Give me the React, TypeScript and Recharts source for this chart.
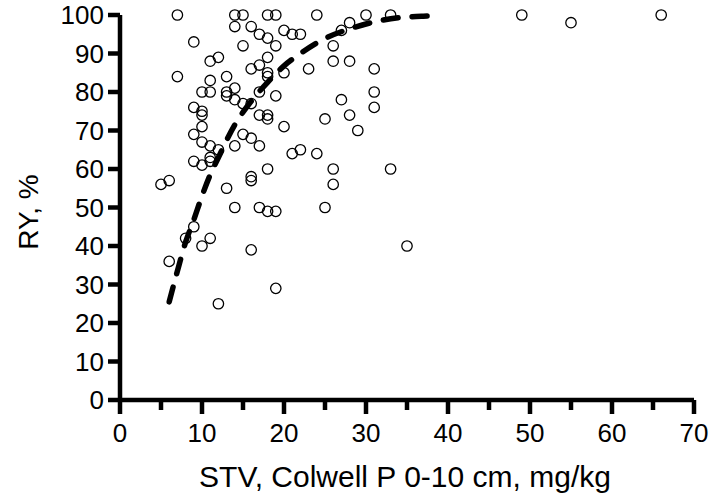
import { ComposedChart, Scatter, Line, XAxis, YAxis, Label } from "recharts";

// observed soil test values (x) and relative yield (y)
const stv = [
    7, 14, 15, 18, 19, 24, 30, 33, 49, 55, 66,
    14, 16, 28, 17, 18, 20, 21, 22, 27,
    9, 15, 19, 26,
    12, 11, 18, 17, 16, 23, 26, 28, 31,
    7, 13, 11, 18, 18, 20,
    14, 10, 11, 13, 13, 17, 19, 14, 15, 16, 31, 31, 27,
    9, 10, 10, 17, 18, 18, 28, 25,
    10, 20, 29, 9, 15, 16, 10, 11, 12, 14, 17,
    21, 22, 24, 9, 11, 11, 10, 18, 26, 33,
    5, 6, 16, 16, 13, 26,
    14, 17, 18, 19, 25,
    9, 8, 11, 10, 16, 35, 6, 19, 12,
];
const ry = [
    100, 100, 100, 100, 100, 100, 100, 100, 100, 98, 100,
    97, 97, 98, 95, 94, 96, 95, 95, 96,
    93, 92, 92, 92,
    89, 88, 89, 87, 86, 86, 88, 88, 86,
    84, 84, 83, 85, 84, 85,
    81, 80, 80, 80, 79, 80, 79, 78, 77, 77, 80, 76, 78,
    76, 75, 74, 74, 74, 73, 74, 73,
    71, 71, 70, 69, 69, 68, 67, 66, 65, 66, 66,
    64, 65, 64, 62, 63, 62, 61, 60, 60, 60,
    56, 57, 58, 57, 55, 56,
    50, 50, 49, 49, 50,
    45, 42, 42, 40, 39, 40, 36, 29, 25,
];

// fitted response curve
const curveX = [6, 7, 8, 9, 10, 11, 12, 14, 16, 18, 20, 22, 25, 28, 31, 34, 37, 39];
const curveY = [25.5, 33.5, 41, 46.8, 53, 58.5, 63, 71.5, 77.6, 82.5, 86.8, 90, 93.9, 96.4, 98.2, 99.3, 99.7, 99.8];

const xTicks = [0, 5, 10, 15, 20, 25, 30, 35, 40, 45, 50, 55, 60, 65, 70];
const yTicks = [0, 10, 20, 30, 40, 50, 60, 70, 80, 90, 100];

const points = stv.map((x, i) => ({ x, y: ry[i] }));
const curve = curveX.map((x, i) => ({ x, y: curveY[i] }));

const FONT = '"Liberation Sans", Arial, Helvetica, sans-serif';

const XTick = ({ x, y, payload }: any) => {
    const major = payload.value % 10 === 0;
    return (
        <g>
            <line x1={x} y1={y} x2={x} y2={y + (major ? 14 : 10)} stroke="#000" strokeWidth={4.5} />
            {major && (
                <text x={x} y={y + 42} textAnchor="middle" fontSize={26} fontFamily={FONT} fill="#000">
                    {payload.value}
                </text>
            )}
        </g>
    );
};

const OpenCircle = ({ cx, cy }: any) => (
    <circle cx={cx} cy={cy} r={5.2} fill="none" stroke="#000" strokeWidth={1.3} />
);

export default function App() {
    return (
        <div style={{ position: "absolute", left: 0, top: 0, background: "#fff", fontFamily: FONT }}>
            <ComposedChart
                width={713}
                height={498}
                margin={{ top: 15, right: 19, bottom: 0, left: 0 }}
            >
                <XAxis
                    dataKey="x"
                    type="number"
                    domain={[0, 70]}
                    ticks={xTicks}
                    interval={0}
                    height={98}
                    tickSize={0}
                    tickMargin={0}
                    tickLine={false}
                    tick={<XTick />}
                    axisLine={{ stroke: "#000", strokeWidth: 4.5 }}
                >
                    <Label
                        content={() => (
                            <text x={405} y={487} textAnchor="middle" fontSize={30} fontFamily={FONT} fill="#000">
                                STV, Colwell P 0-10 cm, mg/kg
                            </text>
                        )}
                    />
                </XAxis>
                <YAxis
                    dataKey="y"
                    type="number"
                    domain={[0, 100]}
                    ticks={yTicks}
                    interval={0}
                    width={120}
                    tickSize={12}
                    tickMargin={4}
                    tickLine={{ stroke: "#000", strokeWidth: 4.5 }}
                    tick={{ fill: "#000", fontSize: 26, fontFamily: FONT }}
                    axisLine={{ stroke: "#000", strokeWidth: 4.5 }}
                >
                    <Label
                        content={() => (
                            <text
                                x={28}
                                y={212}
                                transform="rotate(-90 28 212)"
                                textAnchor="middle"
                                dominantBaseline="central"
                                fontSize={28}
                                fontFamily={FONT}
                                fill="#000"
                            >
                                RY, %
                            </text>
                        )}
                    />
                </YAxis>
                <Scatter data={points} shape={<OpenCircle />} isAnimationActive={false} />
                <Line
                    data={curve}
                    dataKey="y"
                    type="monotone"
                    stroke="#000"
                    strokeWidth={5.5}
                    strokeDasharray="15 14"
                    strokeLinecap="round"
                    dot={false}
                    activeDot={false}
                    isAnimationActive={false}
                />
            </ComposedChart>
        </div>
    );
}
